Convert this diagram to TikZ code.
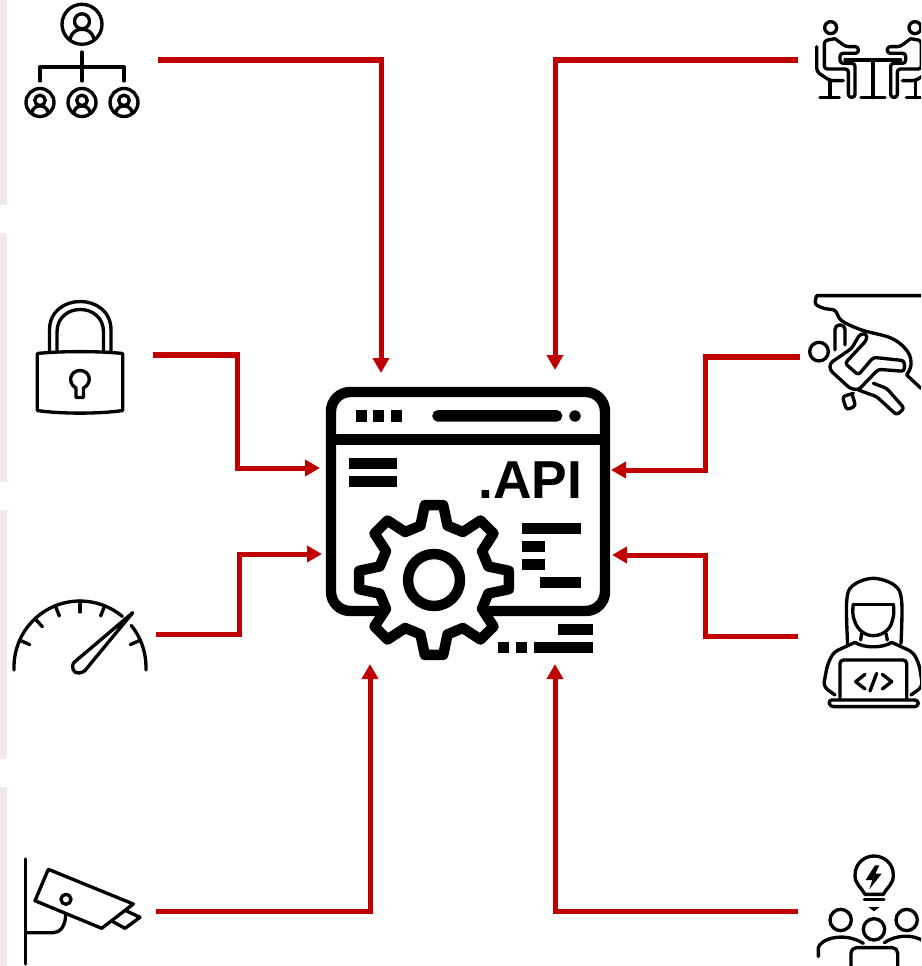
\documentclass[tikz,border=0pt]{standalone}
\usepackage{fontspec}
\setmainfont{Liberation Sans}
\usetikzlibrary{arrows.meta}
\definecolor{linkred}{HTML}{C00000}
\definecolor{barpink}{HTML}{F3E8E8}

\begin{document}
\begin{tikzpicture}[
  x=0.02cm,y=-0.02cm,
  link/.style={-{Triangle[length=3mm,width=3.2mm]},draw=linkred,line width=2.85pt},
  icon/.style={draw=black,line width=1.9pt,line join=round,line cap=round},
  winline/.style={draw=black,line width=5.95pt,line join=round},
  apilabel/.style={font=\bfseries\fontsize{30.4}{30}\selectfont,inner sep=0pt}
]
\useasboundingbox (0,0) rectangle (921,966);
\clip (0,0) rectangle (921,966);

% side bars
\foreach \ya/\yb in {0/205,233/482,510/759,787/966}{\fill[barpink] (0,\ya) rectangle (7,\yb);}

% connector ends
\coordinate (orgout) at (158,60);     \coordinate (apitl) at (381,373);
\coordinate (meetout) at (798,60);    \coordinate (apitr) at (555,370);
\coordinate (lockout) at (153,355);   \coordinate (lockbend) at (237,468); \coordinate (apil1) at (320,468);
\coordinate (climbout) at (800,357);  \coordinate (climbbend) at (705,470); \coordinate (apir1) at (611,470);
\coordinate (gaugeout) at (156,634);  \coordinate (gaugebend) at (239,554); \coordinate (apil2) at (322,554);
\coordinate (devout) at (798,636);    \coordinate (devbend) at (705,555);  \coordinate (apir2) at (612,555);
\coordinate (camout) at (156,911);    \coordinate (apibl) at (370,664);
\coordinate (ideaout) at (798,911);   \coordinate (apibr) at (555,664);

\draw[link] (orgout) -| (apitl);
\draw[link] (meetout) -| (apitr);
\draw[link] (lockout) -| (lockbend) -- (apil1);
\draw[link] (climbout) -| (climbbend) -- (apir1);
\draw[link] (gaugeout) -| (gaugebend) -- (apil2);
\draw[link] (devout) -| (devbend) -- (apir2);
\draw[link] (camout) -| (apibl);
\draw[link] (ideaout) -| (apibr);

% api window
\draw[winline,rounded corners=11pt] (331,392) rectangle (605,611);
\draw[winline] (331,439.5) -- (605,439.5);
\foreach \xa/\ya/\xb/\yb in {355.6/410/366.7/421.7,373.3/410/384.3/421.7,391/410/402.3/421.7,
    349.3/457.7/396.7/469,349.3/475.7/396.7/487,
    522/523.3/580.7/534.3,522/541/545/552.3,522/559/545/570,540/576.7/580.7/587.7,
    557.7/624.3/592.7/635,534/642/592.7/653.3,498.3/642/509.3/653.3,515.7/642/527.3/653.3}{
  \fill[black] (\xa,\ya) rectangle (\xb,\yb);
}
\fill[black,rounded corners=3.2pt] (432.3,410) rectangle (562.3,421.7);
\fill[black] (575,416) circle[radius=5.7];
\node[apilabel] (apitext) at (530.5,480) {.API};

% gear
\begin{scope}[shift={(434,580)}]
  \draw[winline,fill=white] (-7:75.5) \foreach \a in {0,45,...,315}{
     -- (\a-7:75.5) -- (\a+7:75.5) -- (\a+14:56) -- (\a+31:56)} -- cycle;
  \draw[winline] (0,0) circle[radius=26];
\end{scope}

% org chart
\newcommand{\badge}[3]{
  \begin{scope}[shift={(#1,#2)},scale=#3]
    \draw[icon] (0,0) circle[radius=20];
    \draw[icon] (0,-3) circle[radius=7.5];
    \draw[icon] (-12,15) .. controls (-10,7) and (-5,5) .. (0,5) .. controls (5,5) and (10,7) .. (12,15);
  \end{scope}
}
\badge{82}{24.3}{1}
\foreach \x in {40,82,124}{\badge{\x}{102.5}{0.7}\draw[icon] (\x,67) -- (\x,81);}
\draw[icon] (40,67) -- (124,67);
\draw[icon] (82,52) -- (82,67);

% lock
\draw[icon] (37.3,353.5) .. controls (60,351) and (100,351) .. (122.7,353.5)
   -- (122.7,410.5) .. controls (100,414) and (60,414) .. (37.3,410.5) -- cycle;
\draw[icon] (49.5,352) -- (49.5,330) .. controls (49.5,292) and (111,292) .. (111,330) -- (111,352);
\draw[icon] (57,352) -- (57,332) .. controls (57,302) and (103.5,302) .. (103.5,332) -- (103.5,352);
\draw[icon] (76,397.5) -- (83.5,397.5) -- (83.5,388) .. controls (93,383) and (90,370.5) .. (80,370.5)
   .. controls (70,370.5) and (67,383) .. (76,388) -- cycle;

% gauge
\begin{scope}[shift={(80,667)}]
  \draw[icon] (-66,3) -- (-66,0) arc[start angle=-180,end angle=-50,radius=66];
  \draw[icon] (-39:66) arc[start angle=-39,end angle=0,radius=66] -- (66,3);
  \foreach \a in {-156,-133,-112,-90,-68,-24}{\draw[icon] (\a:66) -- (\a:55);}
\end{scope}
\draw[icon] (132.7,612.7) -- (74.5,662) .. controls (70,667) and (74,674) .. (79,673)
   .. controls (81,673) and (83,672) .. (85,670.5) -- cycle;

% camera
\draw[icon] (25.7,859) -- (25.7,964);
\draw[icon] (48.3,869.3) -- (133.3,904) -- (101.7,928.3) -- (35,900.7) -- cycle;
\draw[icon] (126,910.7) -- (140,917.3) -- (125,928.3) -- (111.7,921);
\draw[icon] (66,899.3) circle[radius=5];
\draw[icon] (65.7,914) .. controls (65.7,926) and (60,932.7) .. (53.3,932.7) -- (25.7,932.7);

% meeting
\begin{scope}[shift={(800,0)},scale=0.3333]
  \foreach \m/\o in {1/0,-1/437}{
    \begin{scope}[shift={(\o,0)},xscale=\m]
      \draw[icon] (92,83) circle[radius=18];
      \draw[icon,rounded corners=2pt] (50,140) -- (50,215) -- (90,242) -- (130,242);
      \draw[icon] (90,242) -- (90,293);
      \draw[icon] (60,293) -- (118,293);
      \draw[icon,rounded corners=1.7pt] (105,116) -- (73,122) -- (73,207) -- (145,207) -- (145,292) -- (165,292)
         -- (165,190) -- (120,190) -- (120,160) -- (175,160) -- (175,140) -- (137,140) -- (105,116);
    \end{scope}
  }
  \draw[icon] (135,180) -- (302,180);
  \draw[icon] (218.5,180) -- (218.5,293);
  \draw[icon] (183,293) -- (255,293);
\end{scope}

% climber
\begin{scope}[shift={(795,280)},scale=0.3333]
  \draw[icon] (378,47) -- (65,47) plot[smooth,tension=.6] coordinates {(65,47) (62,72) (90,86) (120,92) (140,122) (200,150) (290,175) (338,215) (348,255) (335,285)} -- (378,325);
  \draw[icon] (72,215) circle[radius=28];
  \draw[icon,rounded corners=2.5pt] (120,210) -- (120,135) -- (150,135) -- (150,195);
  \draw[icon,rounded corners=1.7pt] (105,250) -- (170,205) -- (195,162) -- (215,162) -- (215,180) -- (150,250)
     -- (190,285) -- (235,232) -- (328,242) -- (328,274) -- (250,268) -- (190,330) -- (165,325) -- (105,270) -- cycle;
  \draw[icon,rounded corners=1.7pt] (190,330) -- (245,350) -- (305,405) -- (328,385) -- (275,325) -- (235,310);
  \draw[icon,rounded corners=1.7pt] (175,340) -- (142,350) -- (155,390) -- (182,378) -- (172,345);
\end{scope}

% developer
\begin{scope}[shift={(810,565)},scale=0.3333]
  \draw[icon] plot[smooth,tension=.6] coordinates {(113,240) (110,110) (128,62) (190,40) (255,62) (275,110) (273,235)};
  \draw[icon] plot[smooth,tension=.7] coordinates {(130,118) (130,155) (150,195) (190,212) (232,195) (250,155) (250,118)};
  \draw[icon] (130,118) -- (250,118);
  \draw[icon] (155,205) -- (152,225);
  \draw[icon] (228,205) -- (232,225);
  \draw[icon] (135,232) .. controls (160,250) and (220,250) .. (245,232);
  \draw[icon,rounded corners=3pt] (135,232) -- (70,262) -- (52,300) -- (40,365) -- (75,390);
  \draw[icon,rounded corners=3pt] (245,232) -- (310,262) -- (328,300) -- (338,365) -- (303,390);
  \draw[icon,rounded corners=2pt] (90,402) -- (90,285) -- (290,285) -- (290,402);
  \draw[icon,rounded corners=2pt] (55,405) -- (325,405) -- (325,425) -- (60,425) -- cycle;
  \draw[icon] (165,328) -- (137,350) -- (165,372);
  \draw[icon] (200,325) -- (180,378);
  \draw[icon] (217,328) -- (245,350) -- (217,372);
\end{scope}

% idea
\begin{scope}[shift={(800,846)},scale=0.3333]
  \draw[icon] (195,145) .. controls (185,125) and (165,115) .. (165,88) .. controls (165,50) and (195,30) .. (222,30)
     .. controls (250,30) and (280,50) .. (280,88) .. controls (280,115) and (260,125) .. (250,145) -- cycle;
  \fill[black] (225,58) -- (197,102) -- (217,102) -- (208,130) -- (245,83) -- (226,83) -- (238,58) -- cycle;
  \draw[icon] (193,160) -- (252,160);
  \fill[black] (205,183) -- (239,183) -- (222,196) -- cycle;
  \foreach \x/\y in {122/222,320/222,222/250}{\draw[icon] (\x,\y) circle[radius=32];}
  \draw[icon] (55,332) -- (55,305) .. controls (60,280) and (130,255) .. (190,292);
  \draw[icon] (253,290) .. controls (290,265) and (340,265) .. (370,285);
  \draw[icon,rounded corners=3pt] (153,365) -- (153,305) -- (293,305) -- (293,365);
\end{scope}
\end{tikzpicture}
\end{document}
